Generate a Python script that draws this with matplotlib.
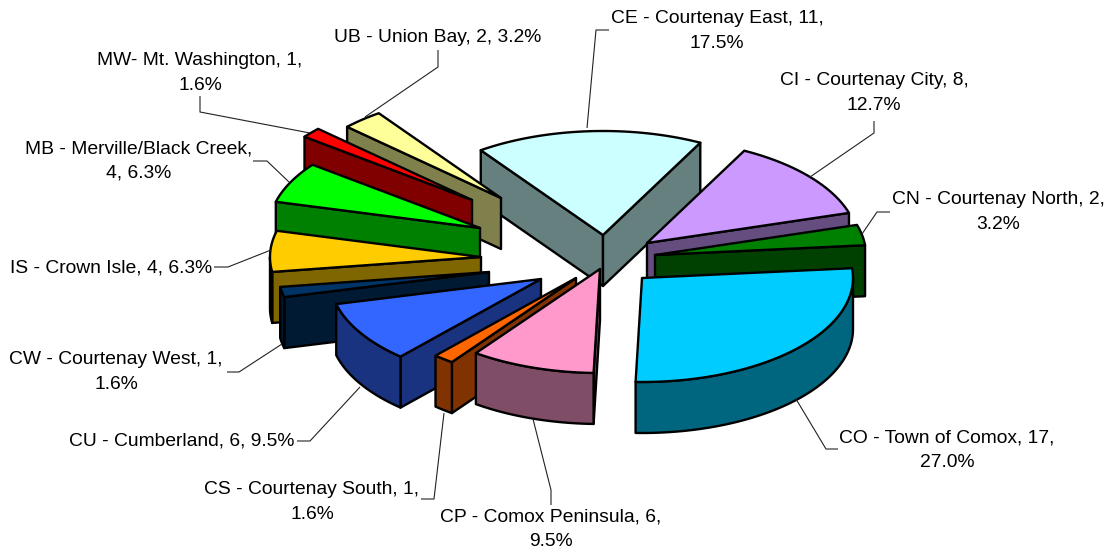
import numpy as np
import matplotlib
matplotlib.use('Agg')
import matplotlib.pyplot as plt
from matplotlib.colors import to_rgb
from matplotlib.patches import Polygon

plt.rcParams['font.family'] = ['Liberation Sans', 'DejaVu Sans']

# data, clockwise from the top slice
codes = ['CE', 'CI', 'CN', 'CO', 'CP', 'CS', 'CU', 'CW', 'IS', 'MB', 'MW', 'UB']
counts = [11, 8, 2, 17, 6, 1, 6, 1, 4, 4, 1, 2]
labels = ['CE - Courtenay East, 11,\n17.5%', 'CI - Courtenay City, 8,\n12.7%',
          'CN - Courtenay North, 2,\n3.2%', 'CO - Town of Comox, 17,\n27.0%',
          'CP - Comox Peninsula, 6,\n9.5%', 'CS - Courtenay South, 1,\n1.6%',
          'CU - Cumberland, 6, 9.5%', 'CW - Courtenay West, 1,\n1.6%',
          'IS - Crown Isle, 4, 6.3%', 'MB - Merville/Black Creek,\n4, 6.3%',
          'MW- Mt. Washington, 1,\n1.6%', 'UB - Union Bay, 2, 3.2%']
colors = ['#CCFFFF', '#CC99FF', '#008000', '#00CCFF', '#FF99CC', '#FF6600',
          '#3366FF', '#003366', '#FFCC00', '#00FF00', '#FF0000', '#FFFF99']

# layout in pixels
start_angle = -35.4
rx, ry, depth = 211, 104, 51
center = (566, 255)
explode_x = [37, 81, 89, 76, 34, 10, -25, -77, -85, -86, -94, -65]
explode_y = [-20, -12, 0, 23, 14, 23, 24, 17, 2, -27, -55, -57]
draw_order = ['CE', 'UB', 'MW', 'MB', 'IS', 'CW', 'CU', 'CS', 'CP', 'CI', 'CN', 'CO']

label_x = [717, 874, 998, 947, 551, 312, 182, 116, 111, 139, 200, 438]
label_y = [31, 93, 212, 450, 529, 502, 441, 372, 268, 161, 73, 38]
leader_x = [[587, 596, 609], [810, 874, 874], [862, 877, 890], [796, 826, 838],
            [533, 551, 551], [444, 434, 421], [360, 310, 297], [282, 239, 227],
            [271, 228, 214], [289, 267, 253], [310, 200, 200], [365, 438, 438]]
leader_y = [[128, 30, 30], [177, 133, 121], [234, 212, 212], [399, 449, 449],
            [419, 490, 505], [413, 499, 499], [387, 441, 441], [344, 372, 372],
            [250, 267, 267], [182, 161, 161], [133, 112, 96], [117, 67, 50]]


def rim(tip, a0, a1):
    t = np.radians(np.linspace(a0, a1, 60))
    return np.column_stack([tip[0] + rx * np.sin(t), tip[1] - ry * np.cos(t)])


def wall(ax, top_pts, color):
    low = top_pts + [0, depth]
    ax.add_patch(Polygon(np.vstack([top_pts, low[::-1]]), closed=True, fc=color,
                         ec='black', lw=1.7, joinstyle='round'))


fig = plt.figure(figsize=(11.08, 5.51), dpi=100)
ax = fig.add_axes([0, 0, 1, 1])
ax.set_xlim(0, 1108)
ax.set_ylim(551, 0)
ax.axis('off')

sweeps = np.array(counts) / sum(counts) * 360
ends = start_angle + np.cumsum(sweeps)
starts = ends - sweeps

for code in draw_order:
    i = codes.index(code)
    a0, a1 = starts[i], ends[i]
    tip = np.array([center[0] + explode_x[i], center[1] + explode_y[i]])
    top = np.array(to_rgb(colors[i]))
    side = top * 0.5
    arc = rim(tip, a0, a1)

    # flat side walls, only the ones facing the viewer
    if np.cos(np.radians(a0 - 90)) < 0:
        wall(ax, np.array([tip, arc[0]]), side)
    if np.cos(np.radians(a1 + 90)) < 0:
        wall(ax, np.array([tip, arc[-1]]), side)
    # curved wall for the front half of the pie
    for shift in [0, 360]:
        lo, hi = max(a0 + shift, 90), min(a1 + shift, 270)
        if lo < hi:
            wall(ax, rim(tip, lo, hi), side)
    ax.add_patch(Polygon(np.vstack([tip, arc]), closed=True, fc=top,
                         ec='black', lw=1.7, joinstyle='round'))

for i in range(len(codes)):
    ax.plot(leader_x[i], leader_y[i], color='#222222', lw=0.8, solid_capstyle='butt')
    ax.text(label_x[i], label_y[i], labels[i], ha='center', va='center',
            fontsize=13.85, linespacing=1.55, color='black')

fig.savefig('out.png', dpi=100)
